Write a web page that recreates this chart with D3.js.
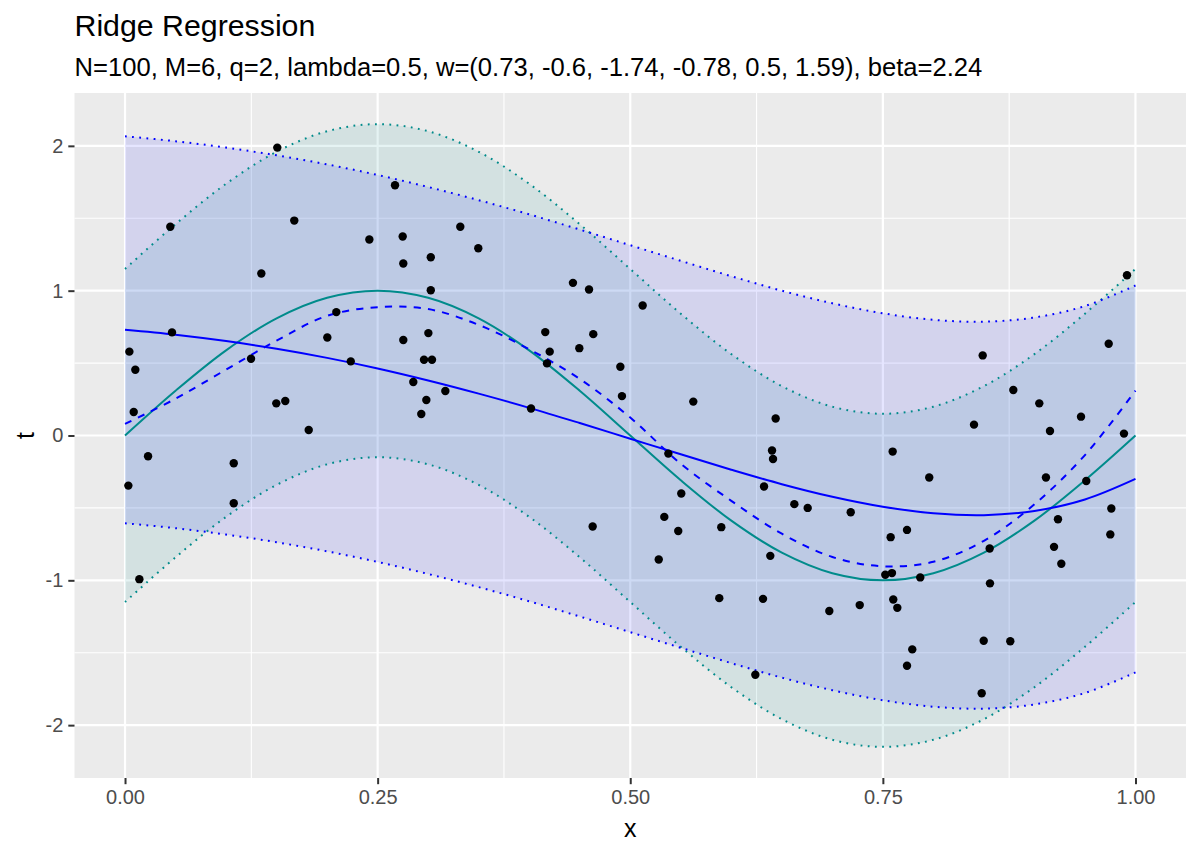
<!DOCTYPE html>
<html>
<head>
<meta charset="utf-8">
<script src="https://cdn.jsdelivr.net/npm/d3@7"></script>
<style>
  html, body { margin: 0; padding: 0; background: #ffffff; }
  svg { display: block; }
  text { font-family: "Liberation Sans", Arial, sans-serif; }
</style>
</head>
<body>
<svg id="chart" width="1200" height="857"></svg>
<script>
// ---------------- data ----------------
const titleText = "Ridge Regression";
const subtitleText = "N=100, M=6, q=2, lambda=0.5, w=(0.73, -0.6, -1.74, -0.78, 0.5, 1.59), beta=2.24";

// sample positions of the curves
const curveX = [0, 0.05, 0.1, 0.15, 0.2, 0.25, 0.3, 0.35, 0.4, 0.45, 0.5,
                0.55, 0.6, 0.65, 0.7, 0.75, 0.8, 0.85, 0.9, 0.95, 1];
// true function (teal) and its band
const trueMean  = [0, 0.309, 0.588, 0.809, 0.951, 1, 0.951, 0.809, 0.588, 0.309, 0,
                   -0.309, -0.588, -0.809, -0.951, -1, -0.951, -0.809, -0.588, -0.309, 0];
const trueUpper = [1.15, 1.459, 1.738, 1.959, 2.101, 2.15, 2.101, 1.959, 1.738, 1.459, 1.15,
                   0.841, 0.562, 0.341, 0.199, 0.15, 0.199, 0.341, 0.562, 0.841, 1.15];
const trueLower = [-1.15, -0.841, -0.562, -0.341, -0.199, -0.15, -0.199, -0.341, -0.562, -0.841, -1.15,
                   -1.459, -1.738, -1.959, -2.101, -2.15, -2.101, -1.959, -1.738, -1.459, -1.15];
// ridge fit (blue solid) and its band
const fitMean  = [0.73, 0.696, 0.652, 0.599, 0.536, 0.463, 0.380, 0.289, 0.191, 0.086, -0.022,
                  -0.130, -0.236, -0.336, -0.423, -0.492, -0.537, -0.550, -0.521, -0.442, -0.30];
const fitUpper = [2.066, 2.032, 1.988, 1.935, 1.872, 1.799, 1.716, 1.625, 1.527, 1.422, 1.314,
                  1.206, 1.100, 1.000, 0.913, 0.844, 0.799, 0.786, 0.815, 0.894, 1.036];
const fitLower = [-0.606, -0.640, -0.684, -0.737, -0.800, -0.873, -0.956, -1.047, -1.145, -1.250, -1.358,
                  -1.466, -1.572, -1.672, -1.759, -1.828, -1.873, -1.886, -1.857, -1.778, -1.636];
// blue dashed curve
const dashedFit = [0.08, 0.254, 0.455, 0.655, 0.826, 0.886, 0.873, 0.764, 0.595, 0.391, 0.124,
                   -0.195, -0.451, -0.678, -0.839, -0.903, -0.872, -0.727, -0.475, -0.135, 0.31];

// observations
const pointX = [0.1507, 0.0448, 0.1675, 0.1349, 0.2091, 0.2002, 0.0465, 0.2234, 0.0043, 0.0102,
                0.1247, 0.0086, 0.1497, 0.1586, 0.1818, 0.2672, 0.2418, 0.2748, 0.2754, 0.3318,
                0.3026, 0.3496, 0.3026, 0.4433, 0.4592, 0.5123, 0.2754, 0.3002, 0.2959, 0.3038,
                0.2853, 0.3170, 0.2982, 0.2932, 0.4159, 0.4203, 0.4176, 0.4634, 0.4496, 0.4902,
                0.4918, 0.4018, 0.5624, 0.6439, 0.9916, 0.9735, 0.8488, 0.8791, 0.9048, 0.9461,
                0.8402, 0.9154, 0.9886, 0.0228, 0.0033, 0.1076, 0.1076, 0.0142, 0.4628, 0.5377,
                0.6403, 0.6413, 0.7597, 0.6324, 0.5505, 0.6624, 0.6756, 0.7182, 0.5337, 0.5475,
                0.5901, 0.7577, 0.7739, 0.5282, 0.6386, 0.7524, 0.7590, 0.7870, 0.5881, 0.6314,
                0.6970, 0.7271, 0.7603, 0.7643, 0.7791, 0.7739, 0.6238, 0.7959, 0.9114, 0.9513,
                0.9761, 0.9233, 0.9751, 0.8557, 0.9194, 0.9266, 0.8560, 0.8498, 0.8761, 0.8478];
const pointT = [1.988, 1.441, 1.484, 1.119, 0.852, 0.677, 0.712, 0.512, 0.579, 0.454,
                0.530, 0.162, 0.222, 0.238, 0.038, 1.728, 1.353, 1.374, 1.188, 1.441,
                1.231, 1.293, 1.003, 1.054, 1.008, 0.898, 0.659, 0.707, 0.523, 0.523,
                0.369, 0.307, 0.245, 0.148, 0.714, 0.579, 0.498, 0.700, 0.603, 0.475,
                0.272, 0.186, 0.234, 0.117, 1.107, 0.634, 0.553, 0.314, 0.222, 0.130,
                0.075, 0.031, 0.013, -0.143, -0.346, -0.192, -0.468, -0.992, -0.628, -0.125,
                -0.104, -0.162, -0.111, -0.352, -0.401, -0.474, -0.500, -0.530, -0.562, -0.659,
                -0.633, -0.702, -0.652, -0.856, -0.831, -0.962, -0.950, -0.980, -1.123, -1.128,
                -1.212, -1.171, -1.132, -1.190, -1.477, -1.590, -1.652, -0.290, -0.290, -0.314,
                -0.504, -0.578, -0.683, -0.780, -0.769, -0.886, -1.021, -1.417, -1.421, -1.780];

// axes
const xTicks = [0, 0.25, 0.5, 0.75, 1];
const xTickLabels = ["0.00", "0.25", "0.50", "0.75", "1.00"];
const xMinor = [0.125, 0.375, 0.625, 0.875];
const yTicks = [-2, -1, 0, 1, 2];
const yTickLabels = ["-2", "-1", "0", "1", "2"];
const yMinor = [-1.5, -0.5, 0.5, 1.5];
const xDomain = [-0.05, 1.05];
const yDomain = [-2.365, 2.365];

// ---------------- drawing ----------------
const svg = d3.select("#chart");
const P = { left: 74.5, right: 1186, top: 93, bottom: 778 };

const x = d3.scaleLinear().domain(xDomain).range([P.left, P.right]);
const y = d3.scaleLinear().domain(yDomain).range([P.bottom, P.top]);

const TEAL = "#008B8B";
const BLUE = "#0000FF";

// panel background
svg.append("rect")
  .attr("x", P.left).attr("y", P.top)
  .attr("width", P.right - P.left).attr("height", P.bottom - P.top)
  .attr("fill", "#EBEBEB");

const grid = svg.append("g");
// minor grid
grid.selectAll("line.xminor").data(xMinor).join("line")
  .attr("x1", d => x(d)).attr("x2", d => x(d))
  .attr("y1", P.top).attr("y2", P.bottom)
  .attr("stroke", "#ffffff").attr("stroke-width", 1.1);
grid.selectAll("line.yminor").data(yMinor).join("line")
  .attr("y1", d => y(d)).attr("y2", d => y(d))
  .attr("x1", P.left).attr("x2", P.right)
  .attr("stroke", "#ffffff").attr("stroke-width", 1.1);
// major grid
grid.selectAll("line.xmajor").data(xTicks).join("line")
  .attr("x1", d => x(d)).attr("x2", d => x(d))
  .attr("y1", P.top).attr("y2", P.bottom)
  .attr("stroke", "#ffffff").attr("stroke-width", 2.2);
grid.selectAll("line.ymajor").data(yTicks).join("line")
  .attr("y1", d => y(d)).attr("y2", d => y(d))
  .attr("x1", P.left).attr("x2", P.right)
  .attr("stroke", "#ffffff").attr("stroke-width", 2.2);

const idx = d3.range(curveX.length);
const curve = d3.curveCatmullRom.alpha(0.5);

function band(upper, lower) {
  return d3.area().curve(curve)
    .x(i => x(curveX[i])).y0(i => y(lower[i])).y1(i => y(upper[i]))(idx);
}
function line(vals) {
  return d3.line().curve(curve).x(i => x(curveX[i])).y(i => y(vals[i]))(idx);
}

// ribbons
svg.append("path").attr("d", band(trueUpper, trueLower))
  .attr("fill", TEAL).attr("fill-opacity", 0.1);
svg.append("path").attr("d", band(fitUpper, fitLower))
  .attr("fill", BLUE).attr("fill-opacity", 0.1);

// dotted ribbon borders
const LW = 2.0;
const DOT = 1.8;
[trueUpper, trueLower].forEach(v => {
  svg.append("path").attr("d", line(v)).attr("fill", "none")
    .attr("stroke", TEAL).attr("stroke-width", LW)
    .attr("stroke-dasharray", `${DOT},${DOT * 3}`);
});
[fitUpper, fitLower].forEach(v => {
  svg.append("path").attr("d", line(v)).attr("fill", "none")
    .attr("stroke", BLUE).attr("stroke-width", LW)
    .attr("stroke-dasharray", `${DOT},${DOT * 3}`);
});

// main lines
svg.append("path").attr("d", line(trueMean)).attr("fill", "none")
  .attr("stroke", TEAL).attr("stroke-width", LW);
svg.append("path").attr("d", line(fitMean)).attr("fill", "none")
  .attr("stroke", BLUE).attr("stroke-width", LW);
svg.append("path").attr("d", line(dashedFit)).attr("fill", "none")
  .attr("stroke", BLUE).attr("stroke-width", LW)
  .attr("stroke-dasharray", `${DOT * 4},${DOT * 4}`);

// points
svg.append("g").selectAll("circle").data(d3.range(pointX.length)).join("circle")
  .attr("cx", i => x(pointX[i])).attr("cy", i => y(pointT[i]))
  .attr("r", 4.2).attr("fill", "#000000");

// axes
const xAxis = d3.axisBottom(x).tickValues(xTicks)
  .tickFormat((d, i) => xTickLabels[i]).tickSize(6.2).tickPadding(5);
const gx = svg.append("g").attr("transform", `translate(0,${P.bottom})`).call(xAxis);
const yAxis = d3.axisLeft(y).tickValues(yTicks)
  .tickFormat((d, i) => yTickLabels[i]).tickSize(6.2).tickPadding(5);
const gy = svg.append("g").attr("transform", `translate(${P.left},0)`).call(yAxis);
[gx, gy].forEach(g => {
  g.select(".domain").remove();
  g.selectAll(".tick line").attr("stroke", "#333333").attr("stroke-width", 2);
  g.selectAll(".tick text").attr("fill", "#4D4D4D")
    .style("font-size", "20px")
    .style("font-family", "'Liberation Sans', Arial, sans-serif");
});
gx.selectAll(".tick text").attr("dy", "0.72em");

// axis titles
svg.append("text").attr("x", (P.left + P.right) / 2).attr("y", 837)
  .attr("text-anchor", "middle").attr("font-size", 25).attr("fill", "#000000")
  .text("x");
svg.append("text")
  .attr("transform", `translate(34,${(P.top + P.bottom) / 2}) rotate(-90)`)
  .attr("text-anchor", "middle").attr("font-size", 25).attr("fill", "#000000")
  .text("t");

// title & subtitle
svg.append("text").attr("x", P.left).attr("y", 36)
  .attr("font-size", 30.3).attr("fill", "#000000").text(titleText);
svg.append("text").attr("x", P.left).attr("y", 76)
  .attr("font-size", 25.6).attr("fill", "#000000").text(subtitleText);
</script>
</body>
</html>
